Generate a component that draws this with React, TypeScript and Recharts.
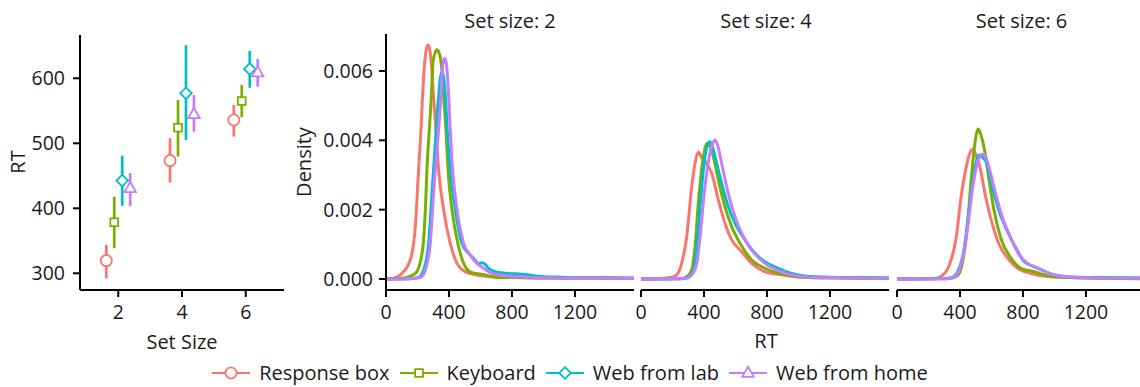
import React from 'react';
import { ScatterChart, Scatter, XAxis, YAxis, ErrorBar, LineChart, Line } from 'recharts';

// ---------- categories ----------
const groups = ['Response box', 'Keyboard', 'Web from lab', 'Web from home'];
const colors = ['#F8766D', '#7CAE00', '#00BFC4', '#C77CFF'];
const shapes = ['circle', 'square', 'diamond', 'triangle'];
const setSizes = [2, 4, 6];
const dodge = [-0.375, -0.125, 0.125, 0.375];

// ---------- left panel: mean RT with intervals (per set size 2,4,6) ----------
const meanResponseBox = [319.5, 473.4, 535.8];
const lowResponseBox = [292.3, 439.5, 510.2];
const highResponseBox = [343.6, 507.8, 558.9];

const meanKeyboard = [378.5, 524, 565];
const lowKeyboard = [338.5, 479.6, 540];
const highKeyboard = [418, 566.8, 589.7];

const meanWebLab = [442.6, 577, 614.3];
const lowWebLab = [404, 505, 585.5];
const highWebLab = [481, 651, 642];

const meanWebHome = [430.8, 544.6, 609];
const lowWebHome = [403.6, 517.8, 587];
const highWebHome = [454, 574.3, 629.7];

const rtTicks = [300, 400, 500, 600];
const setSizeTicks = [2, 4, 6];

// ---------- density curves: [RT, density x 1e-3] ----------
const dens2ResponseBox: [number, number][] = [
  [0, 0], [50, 0.02], [100, 0.16], [154, 0.55], [186, 1.5], [207, 3.15], [222, 4.3], [232, 5.26], [245, 6.22],
  [256, 6.62], [267, 6.75], [278, 6.62], [288, 6.22], [302, 5.26], [317, 4.3], [334, 3.15], [366, 2.0], [408, 1.03],
  [451, 0.45], [503, 0.21], [567, 0.12], [650, 0.07], [800, 0.05], [1000, 0.03], [1200, 0.03], [1400, 0.04], [1575, 0.02],
];
const dens2Keyboard: [number, number][] = [
  [0, 0], [100, 0.02], [186, 0.16], [229, 0.74], [250, 2.0], [260, 3.15], [275, 4.3], [288, 5.26], [298, 6.22],
  [311, 6.52], [324, 6.61], [337, 6.52], [351, 6.22], [366, 5.26], [381, 4.3], [394, 3.15], [419, 2.0], [461, 0.93],
  [503, 0.36], [546, 0.18], [630, 0.12], [694, 0.05], [800, 0.04], [1000, 0.03], [1200, 0.02], [1575, 0.02],
];
const dens2WebLab: [number, number][] = [
  [0, 0], [150, 0.01], [208, 0.05], [239, 0.26], [271, 1.03], [292, 2.47], [302, 3.15], [319, 4.3], [334, 5.26],
  [345, 5.8], [356, 5.98], [367, 5.8], [377, 5.26], [389, 4.3], [408, 3.15], [440, 2.0], [482, 1.03], [525, 0.74],
  [556, 0.6], [590, 0.45], [610, 0.47], [630, 0.42], [651, 0.31], [694, 0.21], [779, 0.16], [863, 0.14], [948, 0.09],
  [1117, 0.05], [1328, 0.03], [1575, 0.02],
];
const dens2WebHome: [number, number][] = [
  [0, 0], [150, 0.01], [220, 0.05], [250, 0.26], [281, 1.03], [302, 2.47], [313, 3.15], [334, 4.3], [349, 5.26],
  [362, 6.22], [372, 6.37], [383, 6.22], [398, 5.26], [408, 4.3], [423, 3.15], [451, 2.0], [493, 1.03],
  [535, 0.69], [578, 0.45], [620, 0.31], [673, 0.16], [757, 0.1], [906, 0.05], [1100, 0.03], [1300, 0.02], [1575, 0.02],
];

const dens4ResponseBox: [number, number][] = [
  [0, 0], [150, 0.02], [195, 0.05], [227, 0.12], [258, 0.45], [290, 1.22], [322, 2.66], [343, 3.34], [364, 3.66],
  [385, 3.5], [406, 3.39], [449, 3.05], [491, 2.28], [533, 1.61], [576, 1.13], [639, 0.79], [703, 0.45],
  [787, 0.21], [893, 0.12], [1000, 0.06], [1200, 0.04], [1400, 0.03], [1575, 0.02],
];
const dens4Keyboard: [number, number][] = [
  [0, 0], [250, 0.01], [290, 0.06], [322, 0.26], [343, 0.93], [364, 2.18], [385, 3.15], [405, 3.75], [423, 3.92],
  [440, 3.8], [459, 3.53], [491, 2.86], [533, 2.09], [576, 1.51], [629, 1.03], [703, 0.55], [787, 0.31],
  [893, 0.14], [1000, 0.06], [1200, 0.03], [1575, 0.02],
];
const dens4WebLab: [number, number][] = [
  [0, 0], [260, 0.01], [301, 0.06], [333, 0.26], [354, 0.93], [375, 2.09], [396, 3.15], [415, 3.75], [438, 3.96],
  [455, 3.8], [470, 3.53], [512, 2.76], [554, 2.09], [608, 1.51], [660, 1.13], [724, 0.74], [787, 0.5],
  [872, 0.31], [957, 0.16], [1050, 0.08], [1200, 0.05], [1400, 0.04], [1575, 0.03],
];
const dens4WebHome: [number, number][] = [
  [0, 0], [280, 0.02], [322, 0.12], [354, 0.45], [375, 1.22], [406, 2.66], [438, 3.63], [455, 3.9], [470, 4.01],
  [490, 3.8], [512, 3.34], [554, 2.47], [597, 1.8], [650, 1.22], [703, 0.84], [787, 0.45], [893, 0.21],
  [957, 0.12], [1050, 0.06], [1200, 0.04], [1575, 0.02],
];

const dens6ResponseBox: [number, number][] = [
  [0, 0], [250, 0.02], [279, 0.07], [332, 0.4], [375, 1.17], [406, 2.33], [438, 3.19], [460, 3.6], [480, 3.74],
  [500, 3.6], [523, 3.29], [565, 2.33], [607, 1.56], [650, 0.98], [702, 0.6], [766, 0.31], [851, 0.16],
  [956, 0.07], [1100, 0.04], [1300, 0.03], [1575, 0.02],
];
const dens6Keyboard: [number, number][] = [
  [0, 0], [340, 0.02], [385, 0.1], [417, 0.5], [448, 1.56], [470, 2.81], [491, 3.77], [505, 4.2], [516, 4.33],
  [530, 4.2], [554, 3.77], [586, 2.81], [618, 1.94], [660, 1.17], [724, 0.6], [787, 0.31], [872, 0.21],
  [978, 0.07], [1100, 0.04], [1300, 0.02], [1575, 0.01],
];
const dens6WebLab: [number, number][] = [
  [0, 0], [300, 0.01], [343, 0.03], [385, 0.21], [427, 0.89], [459, 2.04], [491, 3.1], [510, 3.5], [523, 3.58],
  [545, 3.5], [565, 3.39], [607, 2.62], [650, 1.94], [702, 1.37], [756, 0.89], [808, 0.5], [872, 0.36],
  [935, 0.23], [989, 0.13], [1100, 0.06], [1300, 0.04], [1575, 0.03],
];
const dens6WebHome: [number, number][] = [
  [0, 0], [320, 0.01], [364, 0.06], [406, 0.4], [448, 1.46], [480, 2.62], [512, 3.39], [535, 3.58], [550, 3.6],
  [565, 3.5], [586, 3.19], [629, 2.42], [671, 1.75], [724, 1.17], [777, 0.69], [829, 0.45], [903, 0.29],
  [989, 0.13], [1100, 0.06], [1300, 0.03], [1575, 0.02],
];

const facetTitles = ['Set size: 2', 'Set size: 4', 'Set size: 6'];
const rtDensityTicks = [0, 400, 800, 1200];
const densityTicks = [0, 0.002, 0.004, 0.006];

// ---------- derived tables ----------
const means = [meanResponseBox, meanKeyboard, meanWebLab, meanWebHome];
const lows = [lowResponseBox, lowKeyboard, lowWebLab, lowWebHome];
const highs = [highResponseBox, highKeyboard, highWebLab, highWebHome];

const pointSeries = groups.map((g, gi) =>
  setSizes.map((s, si) => ({
    x: s + dodge[gi],
    y: means[gi][si],
    err: [means[gi][si] - lows[gi][si], highs[gi][si] - means[gi][si]],
  }))
);

const densityPanels = [
  [dens2ResponseBox, dens2Keyboard, dens2WebLab, dens2WebHome],
  [dens4ResponseBox, dens4Keyboard, dens4WebLab, dens4WebHome],
  [dens6ResponseBox, dens6Keyboard, dens6WebLab, dens6WebHome],
].map((panel) => panel.map((arr) => arr.map(([x, d]) => ({ x, y: d / 1000 }))));

// ---------- styling ----------
const FONT = "'Open Sans', 'Noto Sans', sans-serif";
const TXT = '#1a1a1a';
const axisLine = { stroke: '#000', strokeWidth: 2 };
const tickStyle = { fill: TXT, fontSize: 19.5, fontFamily: FONT };

function Marker({ kind, cx, cy, color }: { kind: string; cx: number; cy: number; color: string }) {
  const sw = 1.8;
  if (kind === 'circle') return <circle cx={cx} cy={cy} r={5.6} fill="#fff" stroke={color} strokeWidth={sw} />;
  if (kind === 'square')
    return <rect x={cx - 3.9} y={cy - 3.9} width={7.8} height={7.8} fill="#fff" stroke={color} strokeWidth={sw} />;
  if (kind === 'diamond')
    return (
      <polygon
        points={`${cx},${cy - 5.8} ${cx + 5.8},${cy} ${cx},${cy + 5.8} ${cx - 5.8},${cy}`}
        fill="#fff"
        stroke={color}
        strokeWidth={sw}
      />
    );
  return (
    <polygon
      points={`${cx},${cy - 6.2} ${cx + 5.8},${cy + 3.9} ${cx - 5.8},${cy + 3.9}`}
      fill="#fff"
      stroke={color}
      strokeWidth={sw}
    />
  );
}

function LeftPanel() {
  return (
    <div style={{ position: 'absolute', left: 0, top: 0 }}>
      <ScatterChart width={300} height={330} margin={{ top: 35, right: 16, bottom: 0, left: 0 }}>
        <XAxis
          type="number"
          dataKey="x"
          domain={[0.8, 7.2]}
          ticks={setSizeTicks}
          interval={0}
          allowDataOverflow
          height={40}
          tickSize={7}
          tickMargin={8}
          axisLine={axisLine}
          tickLine={axisLine}
          tick={tickStyle}
        />
        <YAxis
          type="number"
          dataKey="y"
          domain={[274.3, 666.6]}
          ticks={rtTicks}
          interval={0}
          allowDataOverflow
          width={80}
          tickSize={7}
          tickMargin={8}
          axisLine={axisLine}
          tickLine={axisLine}
          tick={tickStyle}
        />
        {groups.map((g, gi) => (
          <Scatter
            key={g}
            name={g}
            data={pointSeries[gi]}
            isAnimationActive={false}
            shape={(p: any) => <Marker kind={shapes[gi]} cx={p.cx} cy={p.cy} color={colors[gi]} />}
          >
            <ErrorBar dataKey="err" direction="y" width={0} stroke={colors[gi]} strokeWidth={2.7} />
          </Scatter>
        ))}
      </ScatterChart>
    </div>
  );
}

function DensityPanel({ idx, plotLeft, showY }: { idx: number; plotLeft: number; showY: boolean }) {
  const yW = showY ? 86 : 0;
  const padL = showY ? 0 : 20;
  return (
    <div style={{ position: 'absolute', left: plotLeft - yW - padL, top: 0 }}>
      <LineChart width={248 + yW + padL} height={330} margin={{ top: 34, right: 0, bottom: 0, left: padL }}>
        <XAxis
          type="number"
          dataKey="x"
          domain={[0, 1575]}
          ticks={rtDensityTicks}
          interval={0}
          allowDataOverflow
          height={40}
          tickSize={7}
          tickMargin={8}
          axisLine={axisLine}
          tickLine={axisLine}
          tick={tickStyle}
        />
        <YAxis
          type="number"
          dataKey="y"
          hide={!showY}
          domain={[-0.000317, 0.007067]}
          ticks={densityTicks}
          interval={0}
          allowDataOverflow
          width={yW}
          tickSize={7}
          tickMargin={6}
          axisLine={axisLine}
          tickLine={axisLine}
          tick={tickStyle}
          tickFormatter={(v: number) => v.toFixed(3)}
        />
        {densityPanels[idx].map((data, gi) => (
          <Line
            key={groups[gi]}
            data={data}
            dataKey="y"
            type="monotone"
            stroke={colors[gi]}
            strokeWidth={3}
            dot={false}
            activeDot={false}
            isAnimationActive={false}
          />
        ))}
      </LineChart>
    </div>
  );
}

function Titles() {
  const t = { fontFamily: FONT, fontSize: 20, fill: TXT, textAnchor: 'middle' as const, dominantBaseline: 'central' as const };
  return (
    <svg width={1140} height={387} style={{ position: 'absolute', left: 0, top: 0, pointerEvents: 'none' }}>
      <text {...t} x={0} y={0} transform="translate(17.5,162) rotate(-90)">RT</text>
      <text {...t} x={182} y={341}>Set Size</text>
      <text {...t} x={0} y={0} transform="translate(303.5,162) rotate(-90)">Density</text>
      <text {...t} x={766} y={340}>RT</text>
      <text {...t} x={510} y={20}>{facetTitles[0]}</text>
      <text {...t} x={766} y={20}>{facetTitles[1]}</text>
      <text {...t} x={1021.5} y={20}>{facetTitles[2]}</text>
    </svg>
  );
}

function LegendRow() {
  return (
    <div
      style={{
        position: 'absolute',
        left: 0,
        top: 360,
        width: 1140,
        height: 26,
        display: 'flex',
        justifyContent: 'center',
        alignItems: 'center',
        fontFamily: FONT,
        fontSize: 20,
        color: TXT,
        lineHeight: '26px',
        whiteSpace: 'nowrap',
      }}
    >
      {groups.map((g, gi) => (
        <div key={g} style={{ display: 'flex', alignItems: 'center', marginRight: gi < groups.length - 1 ? 10 : 0 }}>
          <svg width={38} height={20}>
            <line x1={0} x2={38} y1={10} y2={10} stroke={colors[gi]} strokeWidth={2.2} />
            <Marker kind={shapes[gi]} cx={19} cy={10} color={colors[gi]} />
          </svg>
          <span style={{ marginLeft: 9 }}>{g}</span>
        </div>
      ))}
    </div>
  );
}

export default function App() {
  return (
    <div
      style={{
        position: 'absolute',
        left: 0,
        top: 0,
        width: 1140,
        height: 387,
        overflow: 'hidden',
        background: '#fff',
      }}
    >
      <LeftPanel />
      <DensityPanel idx={0} plotLeft={386} showY />
      <DensityPanel idx={1} plotLeft={641} showY={false} />
      <DensityPanel idx={2} plotLeft={897} showY={false} />
      <Titles />
      <LegendRow />
    </div>
  );
}
